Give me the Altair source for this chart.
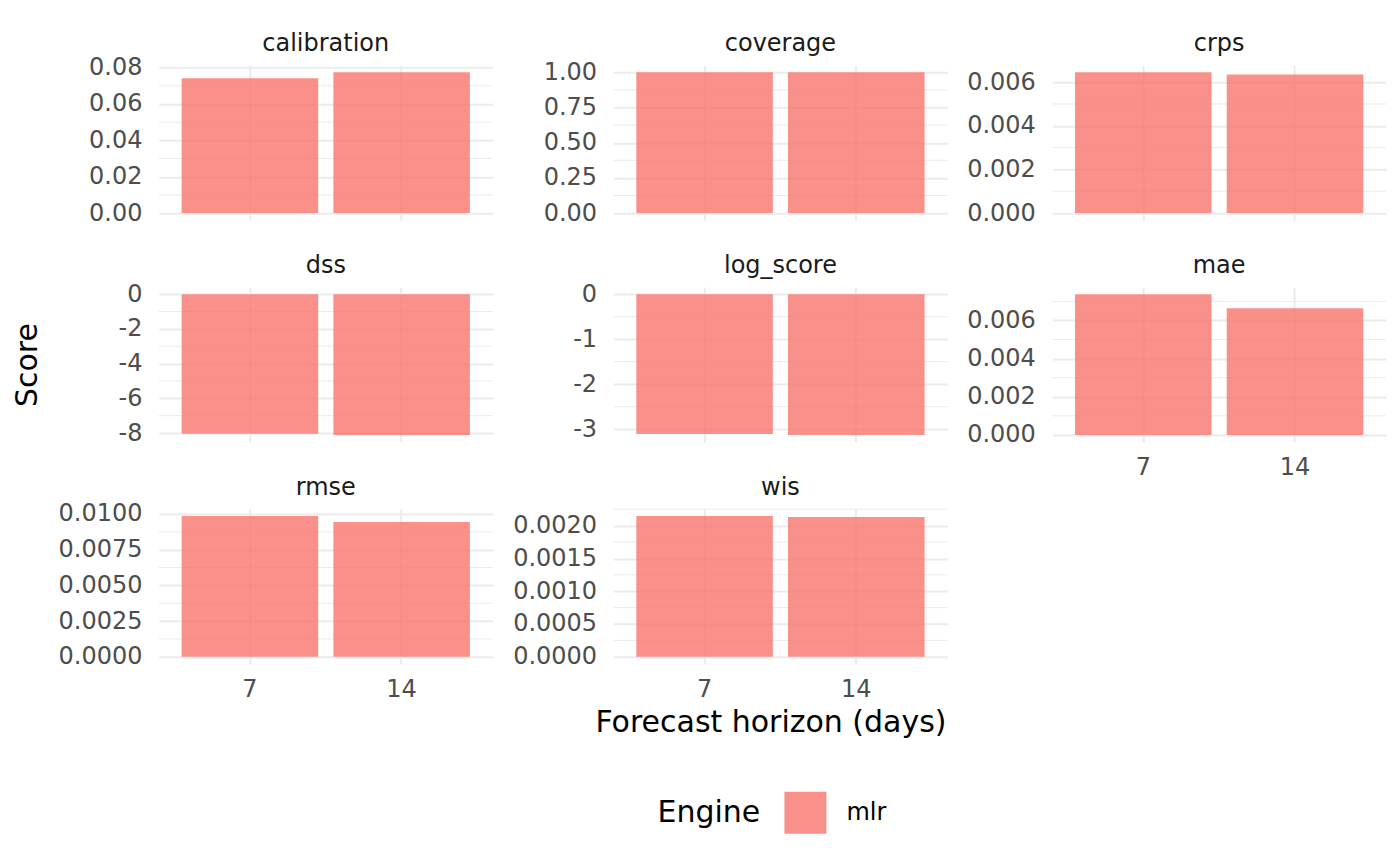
import altair as alt
import pandas as pd

# ---- data ----
horizons = [7, 14]
engine = "mlr"
metric_names = ["calibration", "coverage", "crps", "dss", "log_score", "mae", "rmse", "wis"]

calibration = [0.0741, 0.0774]
coverage = [1.0, 1.0]
crps = [0.00645, 0.00635]
dss = [-8.04, -8.11]
log_score = [-3.105, -3.127]
mae = [0.00738, 0.00664]
rmse = [0.00986, 0.00944]
wis = [0.002147, 0.002132]

# major tick labels / minor gridline positions per panel
major_calibration = [0.0, 0.02, 0.04, 0.06, 0.08]
minor_calibration = [0.01, 0.03, 0.05, 0.07]
major_coverage = [0.0, 0.25, 0.5, 0.75, 1.0]
minor_coverage = [0.125, 0.375, 0.625, 0.875]
major_crps = [0.0, 0.002, 0.004, 0.006]
minor_crps = [0.001, 0.003, 0.005]
major_dss = [0, -2, -4, -6, -8]
minor_dss = [-1, -3, -5, -7]
major_log_score = [0, -1, -2, -3]
minor_log_score = [-0.5, -1.5, -2.5]
major_mae = [0.0, 0.002, 0.004, 0.006]
minor_mae = [0.001, 0.003, 0.005, 0.007]
major_rmse = [0.0, 0.0025, 0.005, 0.0075, 0.01]
minor_rmse = [0.00125, 0.00375, 0.00625, 0.00875]
major_wis = [0.0, 0.0005, 0.001, 0.0015, 0.002]
minor_wis = [0.00025, 0.00075, 0.00125, 0.00175, 0.00225]

values = [calibration, coverage, crps, dss, log_score, mae, rmse, wis]
majors = [major_calibration, major_coverage, major_crps, major_dss,
          major_log_score, major_mae, major_rmse, major_wis]
minors = [minor_calibration, minor_coverage, minor_crps, minor_dss,
          minor_log_score, minor_mae, minor_rmse, minor_wis]
formats = [".2f", ".2f", ".3f", "d", "d", ".3f", ".4f", ".4f"]

FONT = "DejaVu Sans"
GRID = "#EBEBEB"
FILL = "#F8766D"
W, H = 334, 155
col_extent = [104, 103, 87]
X_EXT = 36
SMALL = 24
BIG = 30

legend = alt.Legend(
    title="Engine", orient="none", legendX=499, legendY=727,
    direction="horizontal", titleOrient="left", titleFontSize=BIG,
    titleFontWeight="normal", titleColor="black", titleFont=FONT,
    titlePadding=24, labelFontSize=SMALL, labelColor="black", labelFont=FONT,
    labelOffset=20, symbolType="square", symbolSize=1764, symbolOpacity=0.8,
    symbolStrokeWidth=0, symbolFillColor=FILL,
)


def panel(i):
    name = metric_names[i]
    vals = values[i]
    col = i % 3
    bottom = name in ("mae", "rmse", "wis")
    df = pd.DataFrame({"horizon": horizons, "score": vals, "engine": [engine] * len(vals)})
    lo = min(0.0, min(vals))
    hi = max(0.0, max(vals))
    pad = 0.05 * (hi - lo)
    yscale = alt.Scale(domain=[lo - pad, hi + pad], nice=False, zero=False)
    xscale = alt.Scale(domain=horizons, paddingInner=0.1, paddingOuter=0.15)

    yaxis_kw = dict(
        values=majors[i], format=formats[i], grid=True, gridColor=GRID, gridWidth=2,
        ticks=False, domain=False, labelFontSize=SMALL, labelColor="#4D4D4D", labelFont=FONT,
        labelPadding=17, minExtent=col_extent[col], maxExtent=col_extent[col],
        titleFontSize=BIG, titleColor="black", titleFontWeight="normal", titleFont=FONT,
        titlePadding=12, title="Score" if name == "dss" else None,
    )
    if formats[i] == "d":
        yaxis_kw["labelExpr"] = "replace(datum.label, '\u2212', '-')"
    yaxis = alt.Axis(**yaxis_kw)

    xaxis_kw = dict(
        grid=True, gridColor=GRID, gridWidth=2, ticks=False, domain=False,
        bandPosition=0.5, labelAngle=0, labelFontSize=SMALL, labelFont=FONT,
        labelColor="#4D4D4D" if bottom else "transparent", labelPadding=14,
        minExtent=X_EXT, maxExtent=X_EXT, title=None,
    )
    if name == "wis":
        xaxis_kw.update(dict(
            title="Forecast horizon (days)", titleFontSize=BIG, titleColor="black",
            titleFontWeight="normal", titleFont=FONT, titleX=157, titleY=68,
            titleAlign="center", titleBaseline="alphabetic",
        ))

    rules = alt.Chart(pd.DataFrame({"score": minors[i]})).mark_rule(
        color=GRID, strokeWidth=1
    ).encode(y=alt.Y("score:Q", scale=yscale, axis=yaxis))

    bars = alt.Chart(df).mark_bar(opacity=0.8).encode(
        x=alt.X("horizon:O", scale=xscale, axis=alt.Axis(**xaxis_kw)),
        y=alt.Y("score:Q", scale=yscale, axis=yaxis),
        color=alt.Color("engine:N", scale=alt.Scale(domain=[engine], range=[FILL]), legend=legend),
    )

    # facet strip label
    strip = alt.Chart(pd.DataFrame({"metric": [name]})).mark_text(
        font=FONT, fontSize=SMALL, color="#1A1A1A", baseline="alphabetic", align="center"
    ).encode(text="metric:N", x=alt.value(W / 2), y=alt.value(-14))

    return alt.layer(rules, bars, strip).properties(width=W, height=H)


chart = alt.concat(
    *[panel(i) for i in range(len(metric_names))],
    columns=3, spacing={"row": -4, "column": 17},
).resolve_scale(
    y="independent", x="independent", color="shared"
).properties(
    padding={"left": 5, "top": 24, "right": 5, "bottom": 5}
).configure(
    font=FONT, view=alt.ViewConfig(strokeWidth=0)
)

chart.save("out.html", embed_options={"renderer": "svg", "actions": False})
